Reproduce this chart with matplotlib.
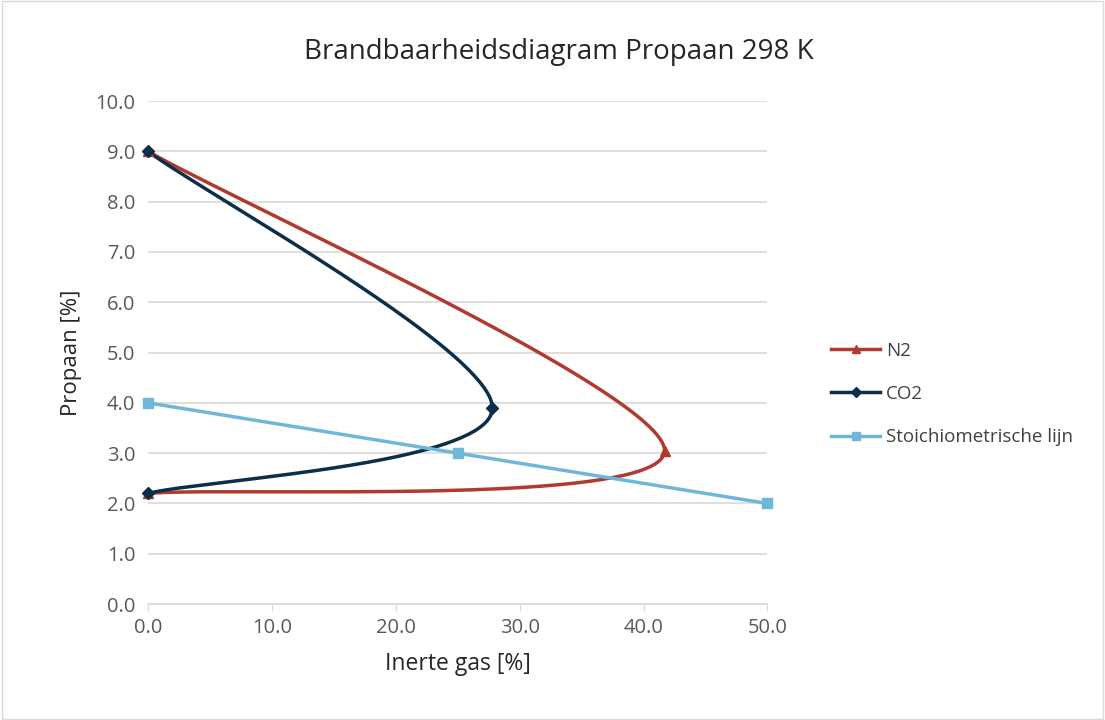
import numpy as np
import matplotlib
matplotlib.use('Agg')
import matplotlib.pyplot as plt
from matplotlib.lines import Line2D

plt.rcParams['font.family'] = ['Open Sans', 'DejaVu Sans']

# data
n2_x = [0.0, 41.7, 0.0]
n2_y = [9.0, 3.05, 2.2]
co2_x = [0.0, 27.8, 0.0]
co2_y = [9.0, 3.9, 2.2]
st_x = [0.0, 25.0, 50.0]
st_y = [4.0, 3.0, 2.0]

labels = ['N2', 'CO2', 'Stoichiometrische lijn']
colors = ['#b03a2e', '#0b2e4a', '#6fb7d9']
markers = ['^', 'D', 's']
msizes = [7, 6, 7]


# Excel-style smoothed line (Catmull-Rom as cubic Bezier)
def smooth(xs, ys, n=80):
    p = np.column_stack([xs, ys]).astype(float)
    pts = np.vstack([p[0], p, p[-1]])
    out = []
    t = np.linspace(0, 1, n)[:, None]
    for i in range(1, len(pts) - 2):
        p0, p1, p2, p3 = pts[i - 1], pts[i], pts[i + 1], pts[i + 2]
        c1 = p1 + (p2 - p0) / 6
        c2 = p2 - (p3 - p1) / 6
        seg = ((1 - t) ** 3) * p1 + 3 * ((1 - t) ** 2) * t * c1 + 3 * (1 - t) * t ** 2 * c2 + t ** 3 * p2
        out.append(seg)
    out = np.vstack(out)
    return out[:, 0], out[:, 1]


fig = plt.figure(figsize=(11.05, 7.2), dpi=100)
ax = fig.add_axes([0.1339, 0.161, 0.5606, 0.6987])

series = [(n2_x, n2_y, True), (co2_x, co2_y, True), (st_x, st_y, False)]
for (xs, ys, sm), c, m, ms in zip(series, colors, markers, msizes):
    if sm:
        sx, sy = smooth(xs, ys)
    else:
        sx, sy = xs, ys
    ax.plot(sx, sy, color=c, lw=2.5, zorder=3, solid_capstyle='round')
    ax.plot(xs, ys, ls='none', marker=m, color=c, ms=ms, zorder=4, clip_on=False)

ax.set_xlim(0, 50)
ax.set_ylim(0, 10)
ax.set_xticks(np.arange(0, 51, 10))
ax.set_yticks(np.arange(0, 10.1, 1))
ax.set_xticklabels([f'{v:.1f}' for v in np.arange(0, 51, 10)])
ax.set_yticklabels([f'{v:.1f}' for v in np.arange(0, 10.1, 1)])
ax.yaxis.grid(True, color='#d9d9d9', lw=1.2)
ax.set_axisbelow(True)
for s in ['top', 'right', 'left']:
    ax.spines[s].set_visible(False)
ax.spines['bottom'].set_color('#d9d9d9')
ax.spines['bottom'].set_linewidth(1.2)
ax.tick_params(axis='y', length=0, labelsize=14.5, labelcolor='#595959', pad=9)
ax.tick_params(axis='x', length=5, color='#d9d9d9', labelsize=14.5, labelcolor='#595959', pad=5)

ax.set_xlabel('Inerte gas [%]', fontsize=16.5, color='#262626', labelpad=10)
ax.set_ylabel('Propaan [%]', fontsize=16, color='#262626', labelpad=10)
fig.text(0.506, 0.928, 'Brandbaarheidsdiagram Propaan 298 K', ha='center', va='center',
         fontsize=20, color='#262626')

handles = [Line2D([0], [0], color=c, lw=2.5, marker=m, ms=ms * 0.8)
           for c, m, ms in zip(colors, markers, msizes)]
fig.legend(handles, labels, loc='center left', bbox_to_anchor=(0.737, 0.453),
           frameon=False, fontsize=13.5, labelcolor='#404040', handlelength=2.6,
           handletextpad=0.3, labelspacing=1.35)

fig.patches.append(plt.Rectangle((0.002, 0.002), 0.996, 0.996, transform=fig.transFigure,
                                 fill=False, edgecolor='#d9d9d9', lw=1))

fig.savefig('out.png', dpi=100)
